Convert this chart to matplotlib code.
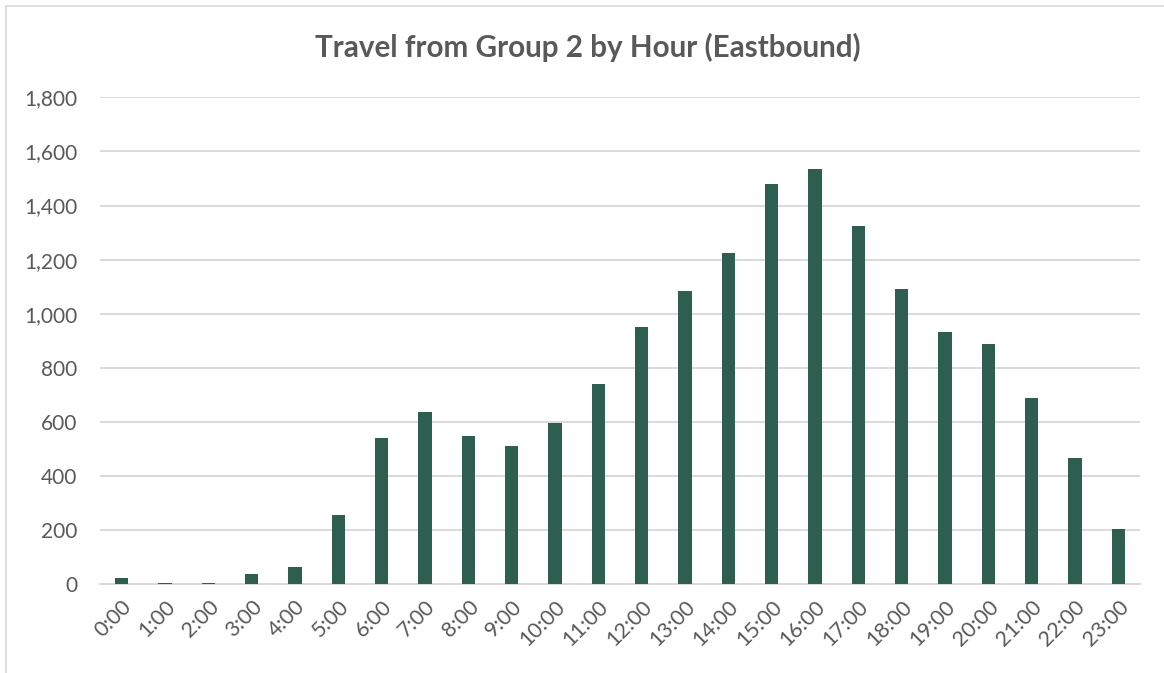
import matplotlib
matplotlib.use("Agg")
import matplotlib.pyplot as plt
from matplotlib.lines import Line2D

hours = [f"{h}:00" for h in range(24)]
values = [22, 4, 4, 38, 63, 256, 541, 637, 548, 511, 596, 740,
          951, 1084, 1225, 1478, 1534, 1325, 1091, 933, 889, 689, 467, 203]
yticks = [0, 200, 400, 600, 800, 1000, 1200, 1400, 1600, 1800]

W, H = 1164, 673
fig = plt.figure(figsize=(W / 100, H / 100), dpi=100)
plt.rcParams['font.family'] = ['Lato', 'DejaVu Sans']
# chart border: only left and top edges visible in the reference
fig.lines.append(Line2D([5.5 / W, 5.5 / W], [0, 1 - 5.5 / H], transform=fig.transFigure,
                        color='#d9d9d9', linewidth=1.2))
fig.lines.append(Line2D([5.5 / W, 1], [1 - 5.5 / H, 1 - 5.5 / H], transform=fig.transFigure,
                        color='#d9d9d9', linewidth=1.2))

left, right, top, bottom = 100, 1140, 97.3, 584.3
ax = fig.add_axes([left / W, 1 - bottom / H, (right - left) / W, (bottom - top) / H])
x = list(range(len(hours)))
ax.bar(x, values, width=0.31, color='#2E5E50', zorder=3)
ax.set_xlim(-0.5, len(hours) - 0.5)
ax.set_ylim(0, 1800)
ax.set_yticks(yticks)
ax.set_yticklabels([f"{v:,}" for v in yticks])
ax.set_xticks(x)
ax.set_xticklabels(hours, rotation=45, ha='right', rotation_mode='anchor')
ax.grid(axis='y', color='#d9d9d9', linewidth=1.4, zorder=0)
for s in ['top', 'right', 'left']:
    ax.spines[s].set_visible(False)
ax.spines['bottom'].set_color('#d9d9d9')
ax.spines['bottom'].set_linewidth(1.4)
ax.tick_params(axis='both', length=0, labelsize=15, colors='#595959')
ax.tick_params(axis='y', pad=16.5)
ax.tick_params(axis='x', pad=9, labelsize=15.5)
fig.text(588 / W, 1 - 47 / H, "Travel from Group 2 by Hour (Eastbound)",
         ha='center', va='center', fontsize=21.3, fontweight='bold', color='#595959')
fig.savefig("out.png", dpi=100)
